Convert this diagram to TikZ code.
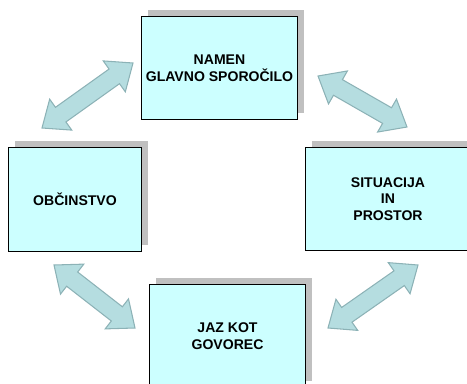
\documentclass[tikz,border=0pt]{standalone}
\usepackage{fontspec}
\setmainfont{Liberation Sans}
\usetikzlibrary{calc,shadows}
\definecolor{boxfill}{RGB}{204,255,255}
\definecolor{shadowc}{RGB}{192,192,192}
\definecolor{arrfill}{RGB}{181,221,224}
\definecolor{arrline}{RGB}{140,178,182}
\newcommand{\arrHL}{0.46cm}
\newcommand{\arrHW}{0.38cm}
\newcommand{\arrSW}{0.18cm}
\newcommand{\blockarrow}[2]{%
  \coordinate (h1) at ($(#1)!\arrHL!(#2)$);
  \coordinate (h2) at ($(#2)!\arrHL!(#1)$);
  \draw[arrowbody] (#1) -- ($(h1)!\arrHW!90:(#1)$) -- ($(h1)!\arrSW!90:(#1)$)
    -- ($(h2)!\arrSW!-90:(#2)$) -- ($(h2)!\arrHW!-90:(#2)$) -- (#2)
    -- ($(h2)!\arrHW!90:(#2)$) -- ($(h2)!\arrSW!90:(#2)$)
    -- ($(h1)!\arrSW!-90:(#1)$) -- ($(h1)!\arrHW!-90:(#1)$) -- cycle;}
\begin{document}
\begin{tikzpicture}[x=0.02cm,y=-0.02cm,
  box/.style={draw=black, line width=0.6pt, fill=boxfill, anchor=north west,
    align=center, inner sep=0pt,
    font=\fontsize{8}{9.4}\selectfont\bfseries,
    drop shadow={shadow xshift=0.13cm, shadow yshift=0.13cm, fill=shadowc, opacity=1}},
  arrowbody/.style={fill=arrfill, draw=arrline, line width=0.6pt, line join=miter}]
\useasboundingbox (0,0) rectangle (467,383);
\node[box, minimum width=3.12cm, minimum height=2.06cm] (namen) at (141,16) {NAMEN\\GLAVNO SPOROČILO};
\node[box, minimum width=2.66cm, minimum height=2.08cm] (obc) at (8,147) {OBČINSTVO};
\node[box, minimum width=3.3cm, minimum height=2.06cm] (sit) at (305,147) {SITUACIJA\\IN\\PROSTOR};
\node[box, minimum width=3.12cm, minimum height=2.06cm] (jaz) at (149,284) {JAZ KOT\\GOVOREC};
\coordinate (a1s) at (42,128);
\coordinate (a1e) at (133,63);
\coordinate (a2s) at (318,76);
\coordinate (a2e) at (407,127);
\coordinate (a3s) at (54,265);
\coordinate (a3e) at (135,328);
\coordinate (a4s) at (418,265);
\coordinate (a4e) at (328,328);
\blockarrow{a1s}{a1e}
\blockarrow{a2s}{a2e}
\blockarrow{a3s}{a3e}
\blockarrow{a4s}{a4e}
\end{tikzpicture}
\end{document}
